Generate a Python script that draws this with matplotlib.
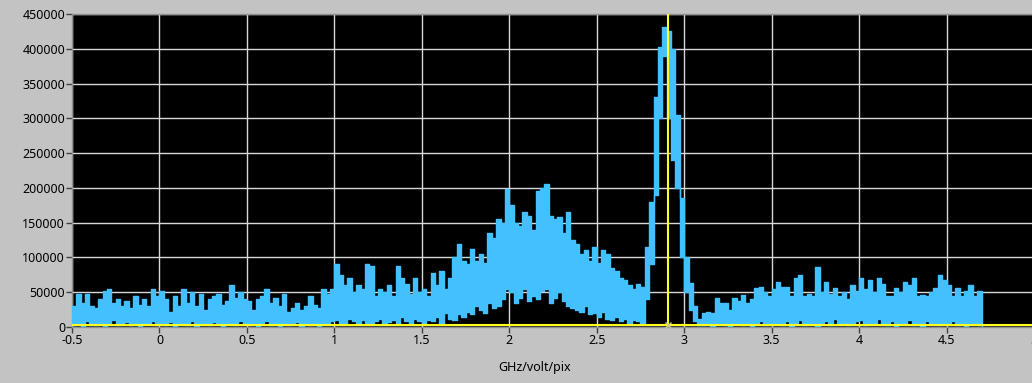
import matplotlib
matplotlib.use("Agg")
import matplotlib.pyplot as plt
import numpy as np

# spectrum sampled every 0.025 GHz starting at -0.5, values in thousands
freq_start = -0.5
freq_step = 0.025

peak_k = [
    30, 48, 35, 48, 30, 28, 40, 52, 55, 35, 40, 30, 38, 28, 45, 32, 40, 30, 55, 45,
    52, 40, 22, 45, 30, 55, 35, 50, 30, 48, 25, 40, 45, 48, 32, 38, 60, 42, 50, 40,
    38, 25, 40, 45, 55, 35, 42, 30, 48, 22, 28, 35, 25, 30, 45, 32, 28, 55, 48, 55,
    90, 75, 60, 70, 50, 60, 55, 90, 88, 45, 55, 50, 60, 45, 88, 70, 62, 48, 70, 50,
    55, 45, 78, 60, 80, 55, 70, 100, 120, 95, 90, 112, 95, 105, 92, 135, 128, 155, 150, 198,
    175, 150, 145, 165, 160, 140, 195, 200, 205, 160, 155, 158, 135, 165, 125, 120, 105, 110, 95, 115,
    92, 110, 105, 85, 80, 70, 68, 60, 55, 62, 58, 115, 180, 330, 402, 432, 425, 400, 305, 185,
    100, 63, 30, 12, 20, 22, 20, 42, 35, 35, 25, 42, 38, 46, 35, 40, 56, 58, 50, 45,
    55, 65, 58, 58, 45, 70, 75, 44, 48, 44, 86, 50, 65, 48, 56, 44, 50, 40, 60, 52,
    70, 55, 68, 50, 70, 62, 44, 45, 56, 50, 65, 60, 70, 44, 46, 44, 50, 56, 75, 68,
    60, 44, 56, 45, 52, 60, 44, 52, 5,
]

trough_k = [
    3, 5, 2, 8, 4, 3, 6, 2, 5, 10, 3, 4, 7, 3, 5, 2, 6, 4, 8, 3,
    5, 3, 7, 2, 4, 6, 3, 8, 2, 5, 4, 3, 7, 5, 2, 6, 4, 3, 9, 4,
    3, 6, 2, 5, 8, 3, 4, 2, 6, 3, 5, 7, 2, 4, 3, 6, 2, 5, 4, 8,
    10, 6, 4, 12, 8, 5, 10, 6, 4, 8, 12, 5, 7, 10, 6, 15, 8, 5, 12, 8,
    6, 10, 8, 15, 5, 20, 12, 10, 18, 15, 22, 18, 30, 25, 20, 35, 28, 30, 40, 55,
    50, 35, 42, 55, 38, 45, 40, 52, 55, 35, 42, 50, 38, 30, 28, 25, 22, 30, 18, 20,
    15, 22, 12, 10, 14, 8, 12, 6, 10, 8, 5, 40, 90, 190, 300, 390, 300, 240, 200, 100,
    50, 25, 8, 3, 3, 5, 2, 4, 6, 3, 2, 5, 4, 3, 6, 2, 4, 8, 3, 5,
    4, 6, 3, 8, 2, 5, 10, 3, 4, 6, 2, 5, 8, 3, 12, 4, 6, 3, 5, 8,
    10, 3, 6, 4, 12, 5, 3, 8, 2, 6, 4, 10, 3, 5, 2, 8, 4, 6, 3, 5,
    4, 8, 3, 5, 2, 6, 4, 3, 2,
]

cursor_x = 2.906
cursor_y = 3000

xticks = [-0.5, 0, 0.5, 1, 1.5, 2, 2.5, 3, 3.5, 4, 4.5, 5]
xtick_labels = ["-0.5", "0", "0.5", "1", "1.5", "2", "2.5", "3", "3.5", "4", "4.5", "5"]
yticks = list(range(0, 450001, 50000))

freq = freq_start + freq_step * np.arange(len(peak_k))
peak = np.array(peak_k) * 1000
trough = np.array(trough_k) * 1000

plt.rcParams['font.family'] = ['Noto Sans', 'DejaVu Sans']

W, H = 1032, 383
fig = plt.figure(figsize=(W / 100, H / 100), dpi=100)
fig.patch.set_facecolor('#c3c3c3')
ax = fig.add_axes([72 / W, (H - 327) / H, (1034 - 72) / W, (327 - 14) / H])
ax.set_facecolor('black')

blue = '#42c0ff'
ax.fill_between(freq, trough, peak, step='post', color=blue, lw=0, zorder=3)
ax.step(freq, peak, where='post', color=blue, lw=1.0, zorder=3)
ax.step(freq, trough, where='post', color=blue, lw=1.0, zorder=3)
ax.axvline(cursor_x, color='#ffff20', lw=1.5, zorder=4)
ax.axhline(cursor_y, color='#ffff20', lw=1.5, zorder=4)
ax.plot([cursor_x], [cursor_y], marker='x', ms=4, color='#c8c8a0', mew=1, zorder=5)

ax.set_xlim(-0.5, 5)
ax.set_ylim(0, 450000)
ax.set_xticks(xticks)
ax.set_xticklabels(xtick_labels)
ax.set_yticks(yticks)
ax.set_yticklabels([str(v) for v in yticks])
ax.grid(True, color='#d8d8d8', lw=1, zorder=1)
ax.set_axisbelow(True)
ax.tick_params(axis='both', direction='out', length=4, width=1, color='#404040',
               labelsize=9, labelcolor='black', pad=1)
for s in ax.spines.values():
    s.set_color('#909090')
    s.set_linewidth(1)

fig.text(535 / W, (H - 367) / H, "GHz/volt/pix", ha='center', va='center', fontsize=9)

fig.savefig("out.png", dpi=100, facecolor=fig.get_facecolor())
